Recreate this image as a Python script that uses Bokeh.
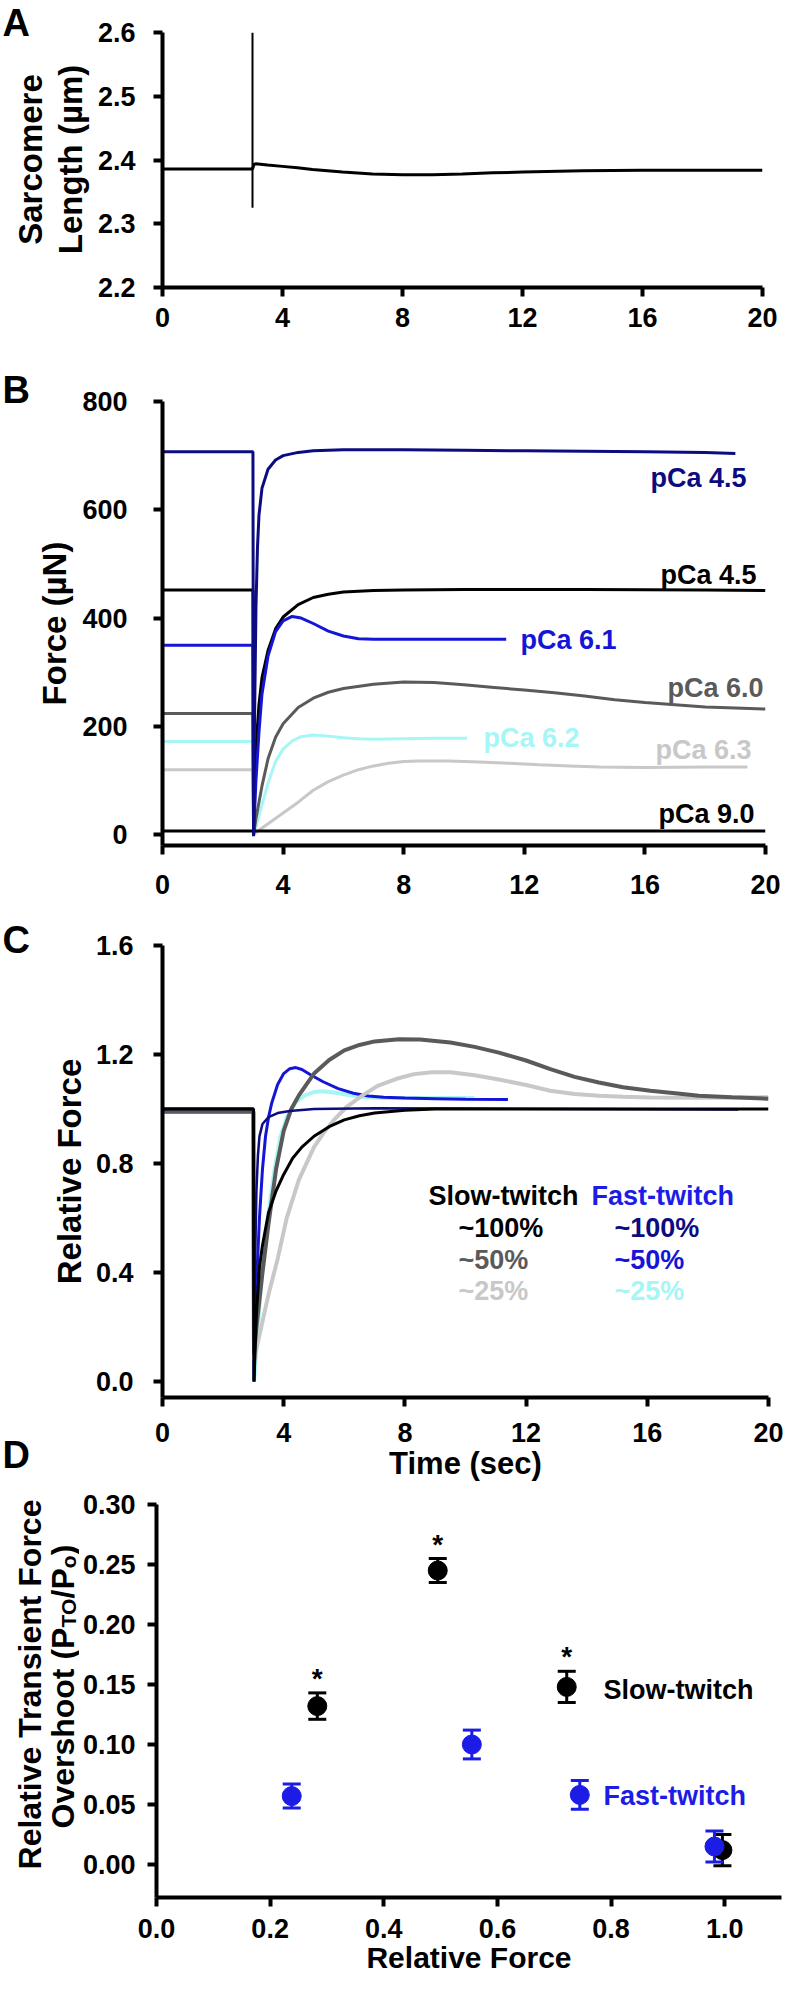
from math import pi
from bokeh.plotting import figure
from bokeh.models import (Range1d, FixedTicker, PrintfTickFormatter, Label,
                          Whisker, TeeHead, ColumnDataSource)
from bokeh.layouts import column, row
from bokeh.core.properties import value
from bokeh.embed import file_html
from bokeh.resources import INLINE

FONT = "Liberation Sans"

# ---------------- DATA ----------------
time_ticks = [0, 4, 8, 12, 16, 20]

# Panel A: sarcomere length (um)
A_yticks = [2.2, 2.3, 2.4, 2.5, 2.6]
A_time = [0, 3.0, 3.05, 3.1, 3.5, 4.0, 4.5, 5.0, 5.5, 6.0, 7.0, 8.0, 9.0, 10.0,
          11.0, 12.0, 14.0, 16.0, 18.0, 20.0]
A_sl = [2.386, 2.386, 2.393, 2.394, 2.392, 2.390, 2.388, 2.385, 2.383, 2.381,
        2.378, 2.377, 2.377, 2.378, 2.380, 2.381, 2.383, 2.384, 2.384, 2.384]
A_step_time = [3.0, 3.0]
A_step_sl = [2.325, 2.600]

# Panel B: force (uN)
B_yticks = [0, 200, 400, 600, 800]
B_navy_t = [0, 3.0, 3.02, 3.05, 3.1, 3.15, 3.2, 3.3, 3.5, 3.75, 4.0, 4.5, 5, 6, 8,
            10, 12, 14, 16, 18, 19]
B_navy_f = [707, 707, -3, 200, 420, 530, 590, 640, 675, 692, 700, 706, 709, 711,
            711, 710, 709, 708, 707, 706, 704]
B_black_t = [0, 3.0, 3.02, 3.05, 3.1, 3.2, 3.3, 3.5, 3.75, 4.0, 4.5, 5, 5.5, 6, 7,
             8, 10, 14, 18, 20]
B_black_f = [452, 452, 0, 90, 160, 240, 290, 340, 380, 402, 425, 438, 444, 448,
             451, 452, 453, 453, 452, 451]
B_blue_t = [0, 3.0, 3.02, 3.1, 3.2, 3.3, 3.5, 3.75, 4.0, 4.3, 4.6, 5.0, 5.5, 6.0,
            6.5, 7.0, 9.0, 11.4]
B_blue_f = [350, 350, 0, 100, 190, 260, 330, 375, 395, 403, 400, 390, 376, 367,
            362, 361, 361, 361]
B_gray_t = [0, 3.0, 3.02, 3.1, 3.2, 3.3, 3.5, 3.75, 4.0, 4.5, 5, 5.5, 6, 7, 8, 9,
            10, 11, 12, 13, 14, 15, 16, 17, 18, 19, 20]
B_gray_f = [224, 224, 0, 30, 60, 90, 140, 180, 205, 235, 252, 263, 270, 278, 282,
            281, 277, 272, 267, 262, 256, 249, 244, 240, 236, 234, 232]
B_cyan_t = [0, 3.0, 3.02, 3.1, 3.2, 3.3, 3.5, 3.75, 4.0, 4.3, 4.6, 5.0, 5.5, 6.0,
            6.5, 7, 8, 9, 10.1]
B_cyan_f = [172, 172, 0, 15, 35, 55, 95, 135, 158, 173, 181, 184, 182, 179, 177,
            176, 177, 178, 178]
B_lgray_t = [0, 3.0, 3.02, 3.2, 3.5, 4.0, 4.5, 5.0, 5.5, 6.0, 6.5, 7.0, 7.5, 8.0,
             8.5, 9.5, 10.5, 11.5, 12.5, 13.5, 14.5, 16, 18, 19.4]
B_lgray_f = [120, 120, 0, 8, 20, 40, 60, 82, 98, 110, 120, 127, 132, 135, 136, 136,
             134, 132, 129, 127, 125, 124, 125, 125]
B_pca9_t = [0, 20]
B_pca9_f = [7, 7]

# Panel C: relative force
C_yticks = [0.0, 0.4, 0.8, 1.2, 1.6]
C_slow100_t = [0, 3.0, 3.02, 3.1, 3.2, 3.3, 3.5, 3.75, 4.0, 4.3, 4.6, 5.0, 5.5,
               6.0, 6.5, 7, 8, 9, 20]
C_slow100_r = [1.0, 1.0, 0.0, 0.25, 0.42, 0.5, 0.62, 0.70, 0.76, 0.82, 0.86, 0.90,
               0.935, 0.96, 0.975, 0.985, 0.995, 1.0, 1.0]
C_slow50_t = [0, 3.0, 3.02, 3.1, 3.2, 3.3, 3.5, 3.75, 4.0, 4.25, 4.5, 5.0, 5.5,
              6.0, 6.5, 7.0, 7.8, 8.5, 9.5, 10.3, 11.1, 12, 12.8, 13.6, 14.4,
              15.2, 16.1, 17, 17.7, 18.8, 20]
C_slow50_r = [0.99, 0.99, 0.1, 0.2, 0.3, 0.4, 0.58, 0.78, 0.92, 1.0, 1.05, 1.13,
              1.18, 1.215, 1.235, 1.248, 1.256, 1.255, 1.244, 1.228, 1.207, 1.178,
              1.146, 1.118, 1.097, 1.08, 1.067, 1.057, 1.049, 1.043, 1.038]
C_slow25_t = [0, 3.0, 3.02, 3.2, 3.5, 3.8, 4.1, 4.5, 5.0, 5.3, 5.7, 6.1, 6.6, 7.1,
              7.7, 8.3, 8.9, 9.5, 10.3, 11.1, 12, 12.8, 13.6, 14.4, 15.2, 16.1,
              17.7, 19, 20]
C_slow25_r = [0.99, 0.99, 0.08, 0.17, 0.32, 0.45, 0.6, 0.74, 0.86, 0.91, 0.965,
              1.01, 1.05, 1.085, 1.11, 1.128, 1.135, 1.135, 1.124, 1.108, 1.088,
              1.067, 1.055, 1.049, 1.045, 1.042, 1.041, 1.042, 1.043]
C_fast100_t = [0, 3.0, 3.02, 3.05, 3.1, 3.15, 3.2, 3.3, 3.5, 3.8, 4.2, 5, 7, 10,
               14, 19]
C_fast100_r = [1.0, 1.0, 0.0, 0.4, 0.7, 0.83, 0.9, 0.945, 0.97, 0.985, 0.993, 1.0,
               1.003, 1.002, 1.0, 0.998]
C_fast50_t = [0, 3.0, 3.02, 3.1, 3.2, 3.3, 3.4, 3.5, 3.6, 3.8, 4.0, 4.2, 4.4, 4.6,
              4.9, 5.3, 5.8, 6.3, 6.8, 7.3, 8, 9, 10, 11.4]
C_fast50_r = [1.0, 1.0, 0.0, 0.35, 0.6, 0.78, 0.9, 0.97, 1.02, 1.09, 1.13, 1.148,
              1.152, 1.145, 1.125, 1.1, 1.075, 1.058, 1.048, 1.043, 1.04, 1.038,
              1.036, 1.035]
C_fast25_t = [0, 3.0, 3.02, 3.1, 3.2, 3.3, 3.5, 3.7, 3.9, 4.1, 4.4, 4.7, 5.0, 5.3,
              5.7, 6.1, 6.5, 7, 8, 9, 10.3]
C_fast25_r = [1.0, 1.0, 0.0, 0.12, 0.28, 0.42, 0.62, 0.78, 0.9, 0.97, 1.025, 1.05,
              1.062, 1.065, 1.06, 1.052, 1.045, 1.041, 1.04, 1.04, 1.04]

# Panel D: relative transient force overshoot vs relative force
D_xticks = [0.0, 0.2, 0.4, 0.6, 0.8, 1.0]
D_yticks = [0.00, 0.05, 0.10, 0.15, 0.20, 0.25, 0.30]
D_slow_x = [0.283, 0.495, 0.722, 0.996]
D_slow_y = [0.132, 0.245, 0.148, 0.012]
D_slow_err = [0.011, 0.010, 0.013, 0.013]
D_slow_sig = [True, True, True, False]
D_fast_x = [0.238, 0.555, 0.745, 0.982]
D_fast_y = [0.057, 0.100, 0.058, 0.015]
D_fast_err = [0.010, 0.012, 0.012, 0.013]

# ---------------- COLOURS ----------------
NAVY = "#0c0c80"
BLUE = "#1515d8"
DGRAY = "#5a5a5a"
LGRAY = "#c8c8c8"
CYAN = "#a6f6f6"
BLACK = "#000000"
DBLUE = "#1c1ce6"
TICK_PX = "27px"

# ---------------- LAYOUT HELPERS ----------------
def no_align(p):
    try:
        p.frame_align = False
    except Exception:
        pass

def geom(top, bottom, gut, l, r, t, b, xr, yr):
    return dict(top=top, bottom=bottom, gut=gut, l=l, r=r, t=t, b=b,
                x0=xr[0], x1=xr[1], y0=yr[0], y1=yr[1])

def make_fig(g, xticks, yticks, xfmt, yfmt, xstand, ystand):
    p = figure(width=792 - g['gut'], height=g['bottom'] - g['top'],
               x_range=Range1d(g['x0'], g['x1']), y_range=Range1d(g['y0'], g['y1']),
               output_backend="svg", toolbar_location=None,
               min_border_left=g['l'] - g['gut'], min_border_right=792 - g['r'],
               min_border_top=g['t'] - g['top'], min_border_bottom=g['bottom'] - g['b'])
    no_align(p)
    p.outline_line_color = None
    p.grid.visible = False
    p.background_fill_color = "white"
    p.border_fill_color = "white"
    p.xaxis.ticker = FixedTicker(ticks=xticks)
    p.yaxis.ticker = FixedTicker(ticks=yticks)
    p.xaxis.formatter = PrintfTickFormatter(format=xfmt)
    p.yaxis.formatter = PrintfTickFormatter(format=yfmt)
    for ax in (p.xaxis[0], p.yaxis[0]):
        ax.axis_line_width = 4
        ax.axis_line_color = "black"
        ax.major_tick_line_width = 4
        ax.major_tick_line_color = "black"
        ax.major_tick_out = 9
        ax.major_tick_in = 0
        ax.minor_tick_out = 0
        ax.minor_tick_in = 0
        ax.major_label_text_font = FONT
        ax.major_label_text_font_style = "bold"
        ax.major_label_text_font_size = TICK_PX
        ax.major_label_text_color = "black"
        ax.axis_label_text_font = FONT
        ax.axis_label_text_font_style = "bold"
        ax.axis_label_text_color = "black"
    p.xaxis.major_label_standoff = xstand
    p.yaxis.major_label_standoff = ystand
    return p

def make_gutter(g):
    q = figure(width=g['gut'] - 8, height=g['bottom'] - g['top'],
               x_range=Range1d(8, g['gut']), y_range=Range1d(-g['bottom'], -g['top']),
               output_backend="svg", toolbar_location=None,
               x_axis_location=None, y_axis_location=None,
               min_border_left=0, min_border_right=0, min_border_top=0,
               min_border_bottom=0)
    no_align(q)
    q.outline_line_color = None
    q.grid.visible = False
    q.background_fill_color = "white"
    q.border_fill_color = "white"
    return q

def gtext(q, px, py, text, size, color="black", align="center",
          baseline="middle", angle=0.0):
    # text placed in a left gutter figure, position in page pixels
    q.add_layout(Label(x=px, y=-py, text=text, angle=angle, text_font=FONT,
                       text_font_size=f"{size}px", text_font_style="bold",
                       text_color=color, text_align=align,
                       text_baseline=baseline))

def lab(p, g, px, py, text, size, color="black", align="left",
        baseline="middle"):
    # text inside a plot frame, position in page pixels
    p.add_layout(Label(x=px - g['l'], y=g['b'] - py, x_units="screen",
                       y_units="screen", text=text,
                       text_font=FONT, text_font_size=f"{size}px",
                       text_font_style="bold", text_color=color,
                       text_align=align, text_baseline=baseline))

# ---------------- PANEL A ----------------
gA = geom(8, 375, 102, 170, 770, 40, 295, (0, 20), (2.2, 2.6))
pA = make_fig(gA, time_ticks, A_yticks, "%d", "%.1f", 11, 18)
pA.line(A_time, A_sl, line_color=BLACK, line_width=3)
pA.line(A_step_time, A_step_sl, line_color=BLACK, line_width=2)
qA = make_gutter(gA)
gtext(qA, 10, 30, "A", 38, align="left")
gtext(qA, 38, 167, "Sarcomere", 33, angle=pi / 2)
gtext(qA, 78, 167, "Length (\u00b5m)", 33, angle=pi / 2)

# ---------------- PANEL B ----------------
gB = geom(375, 925, 86, 170, 773, 409, 853, (0, 20), (-20, 800))
pB = make_fig(gB, time_ticks, B_yticks, "%d", "%d", 20, 26)
pB.line(B_lgray_t, B_lgray_f, line_color=LGRAY, line_width=3)
pB.line(B_cyan_t, B_cyan_f, line_color=CYAN, line_width=3)
pB.line(B_gray_t, B_gray_f, line_color=DGRAY, line_width=3)
pB.line(B_black_t, B_black_f, line_color=BLACK, line_width=3)
pB.line(B_blue_t, B_blue_f, line_color=BLUE, line_width=3)
pB.line(B_pca9_t, B_pca9_f, line_color=BLACK, line_width=3)
pB.line(B_navy_t, B_navy_f, line_color=NAVY, line_width=3)
lab(pB, gB, 658, 485, "pCa 4.5", 27, NAVY)
lab(pB, gB, 668, 582, "pCa 4.5", 27, BLACK)
lab(pB, gB, 528, 647, "pCa 6.1", 27, BLUE)
lab(pB, gB, 675, 695, "pCa 6.0", 27, DGRAY)
lab(pB, gB, 491, 745, "pCa 6.2", 27, CYAN)
lab(pB, gB, 663, 757, "pCa 6.3", 27, LGRAY)
lab(pB, gB, 666, 821, "pCa 9.0", 27, BLACK)
qB = make_gutter(gB)
gtext(qB, 10, 397, "B", 38, align="left")
gtext(qB, 62, 631, "Force (\u00b5N)", 33, angle=pi / 2)

# ---------------- PANEL C ----------------
gC = geom(925, 1496, 100, 168, 776, 953, 1405, (0, 20), (-0.0587, 1.6))
pC = make_fig(gC, time_ticks, C_yticks, "%d", "%.1f", 16, 20)
pC.xaxis.axis_label = "Time (sec)"
pC.xaxis.axis_label_text_font_size = "31px"
pC.xaxis.axis_label_standoff = 1
pC.line(C_fast25_t, C_fast25_r, line_color=CYAN, line_width=4)
pC.line(C_fast50_t, C_fast50_r, line_color=BLUE, line_width=3)
pC.line(C_slow25_t, C_slow25_r, line_color=LGRAY, line_width=4)
pC.line(C_slow50_t, C_slow50_r, line_color=DGRAY, line_width=4)
pC.line(C_fast100_t, C_fast100_r, line_color=NAVY, line_width=2.5)
pC.line(C_slow100_t, C_slow100_r, line_color=BLACK, line_width=3)
lab(pC, gC, 434, 1203, "Slow-twitch", 27, BLACK)
lab(pC, gC, 597, 1203, "Fast-twitch", 27, DBLUE)
lab(pC, gC, 464, 1235, "~100%", 27, BLACK)
lab(pC, gC, 464, 1267, "~50%", 27, DGRAY)
lab(pC, gC, 464, 1298, "~25%", 27, LGRAY)
lab(pC, gC, 620, 1235, "~100%", 27, NAVY)
lab(pC, gC, 620, 1267, "~50%", 27, BLUE)
lab(pC, gC, 620, 1298, "~25%", 27, CYAN)
qC = make_gutter(gC)
gtext(qC, 10, 947, "C", 38, align="left")
gtext(qC, 10, 1462, "D", 38, align="left")
gtext(qC, 77, 1179, "Relative Force", 33, angle=pi / 2)

# ---------------- PANEL D ----------------
gD = geom(1496, 1992, 87, 163, 789, 1512, 1905, (0, 1.1), (-0.0275, 0.30))
pD = make_fig(gD, D_xticks, D_yticks, "%.1f", "%.2f", 12, 12)
pD.xaxis.axis_label = "Relative Force"
pD.xaxis.axis_label_text_font_size = "30px"
pD.xaxis.axis_label_standoff = 0

def errbars(p, xs, ys, es, color):
    src = ColumnDataSource(dict(x=xs, lo=[y - e for y, e in zip(ys, es)],
                                hi=[y + e for y, e in zip(ys, es)]))
    p.add_layout(Whisker(source=src, base="x", lower="lo", upper="hi",
                         line_color=color, line_width=3,
                         upper_head=TeeHead(size=18, line_width=3, line_color=color),
                         lower_head=TeeHead(size=18, line_width=3, line_color=color)))

errbars(pD, D_slow_x, D_slow_y, D_slow_err, BLACK)
errbars(pD, D_fast_x, D_fast_y, D_fast_err, DBLUE)
pD.scatter(D_slow_x, D_slow_y, marker="circle", size=19, fill_color=BLACK,
           line_color=BLACK)
pD.scatter(D_fast_x, D_fast_y, marker="circle", size=19, fill_color=DBLUE,
           line_color=DBLUE)
star_x = [x for x, s in zip(D_slow_x, D_slow_sig) if s]
star_y = [y + e + 0.012 for y, e, s in zip(D_slow_y, D_slow_err, D_slow_sig) if s]
pD.text(star_x, star_y, text=["*"] * len(star_x), text_font=value(FONT),
        text_font_size="28px", text_font_style="bold", text_align="center",
        text_baseline="middle", text_color=BLACK)
lab(pD, gD, 610, 1697, "Slow-twitch", 27, BLACK)
lab(pD, gD, 610, 1803, "Fast-twitch", 27, DBLUE)

qD = make_gutter(gD)
gtext(qD, 37, 1692, "Relative Transient Force", 32, baseline="alphabetic",
      angle=pi / 2)
y0 = 1836
pieces = [("Overshoot (P", 32, 0, 6.279), ("TO", 21, 6, 1.389),
          ("/P", 32, 0, 0.945), ("o", 21, 6, 0.611), (")", 32, 0, 0.333)]
for txt, fs, dx, em in pieces:
    gtext(qD, 70 + dx, y0, txt, fs, align="left", baseline="alphabetic",
          angle=pi / 2)
    y0 -= em * fs

layout = column(row(qA, pA), row(qB, pB), row(qC, pC), row(qD, pD))
open("out.html", "w").write(file_html(layout, INLINE))
